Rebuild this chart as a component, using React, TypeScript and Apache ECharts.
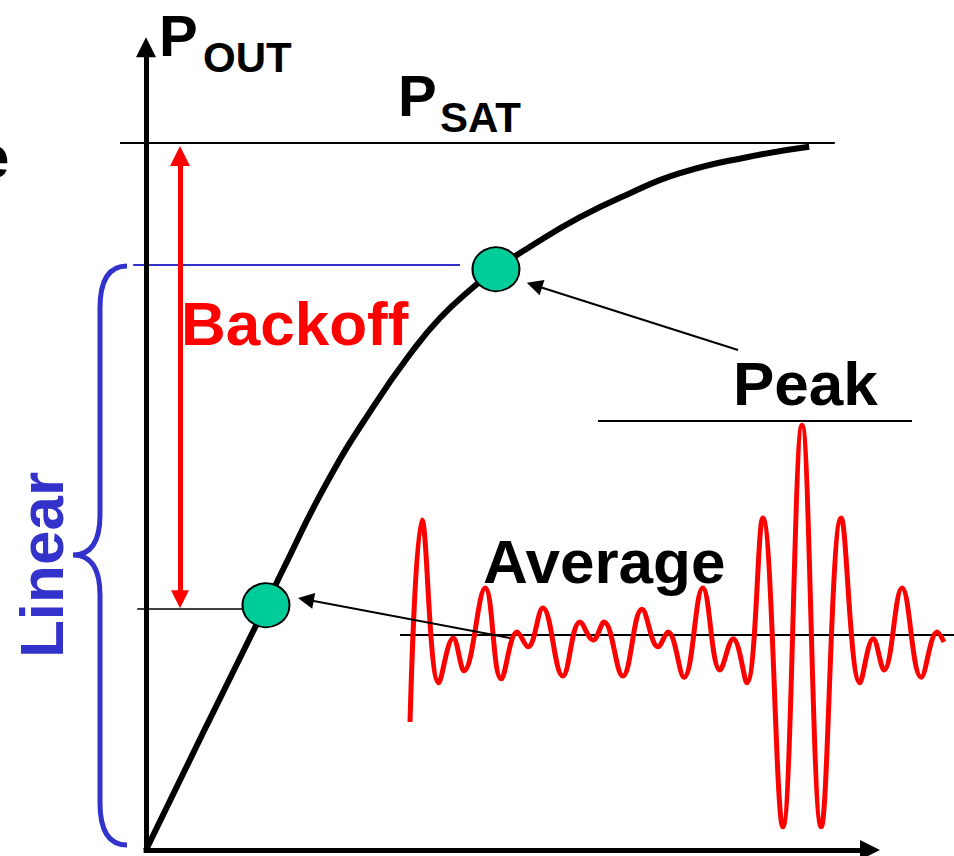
import React, { useEffect, useRef } from "react";
import * as echarts from "echarts";

// ---------- data (Pin / Pout in arbitrary units) ----------
const curvePin = [0, 7.5, 15, 17.1, 22.6, 28.4, 33.4, 36.75, 40.5, 43.75, 48, 54.25, 60.5, 66.75, 75.1, 82.9];
const curvePout = [0, 15.4, 30.6, 35, 45.9, 55.4, 62.5, 66.5, 70, 72.6, 75.4, 79.1, 82.1, 84.6, 86.6, 87.9];

const waveT = [33, 34.5, 36.6, 38.4, 39.75, 42.4, 44.4, 46.4, 47.75, 49.6, 52.1, 54.25, 55.9, 57.25, 59.6, 62, 64, 65.25, 67.25, 69.6, 71.75, 73.4, 75.1, 77.1, 79.6, 82, 84.4, 86.9, 89.25, 90.9, 92.25, 94.5, 96.9, 98.9, 99.75];
const waveV = [16, 41.25, 20.9, 26.5, 22.4, 32.75, 21.4, 27.25, 25.4, 30.25, 21.75, 28.5, 26.25, 28.5, 21.75, 30.1, 25.4, 27.25, 21.6, 32.75, 22.5, 26.4, 20.9, 41.5, 2.9, 53.1, 2.9, 41.5, 20.9, 26.4, 22.5, 32.75, 21.6, 27.25, 26];

const pointNames = ["Average", "Peak"];
const pointPin = [15, 43.75];
const pointPout = [30.6, 72.6];

const psatLevel = 88.4;
const linearTopLevel = 73.1;
const avgLevel = 30.1;
const envPeakLevel = 53.6;
const envAvgLevel = 26.9;

const yAxisTop = 101.6;
const xAxisEnd = 91.75;
const backoffPin = 4.25;
const backoffFrom = 30.1;
const backoffTo = 88;

const peakArrowTail = [74, 62.5];
const peakArrowTip = [47.6, 70.9];
const avgArrowTail = [45.5, 26.5];
const avgArrowTip = [19, 31.5];

// ---------- layout ----------
const W = 954;
const H = 856;
const PX = 8; // pixels per unit on both axes
const X_MIN = -18.25;
const Y_MIN = -0.75;

const BLACK = "#000000";
const RED = "#ff0000";
const BLUE = "#3333cc";
const GREEN = "#00cc99";
const FONT = "'Liberation Sans', Arial, Helvetica, sans-serif";

function pullBack(from: number[], to: number[], px: number): number[] {
  const dx = to[0] - from[0];
  const dy = to[1] - from[1];
  const len = Math.hypot(dx, dy);
  const d = px / PX;
  return [to[0] - (dx / len) * d, to[1] - (dy / len) * d];
}

export default function App() {
  const ref = useRef<HTMLDivElement>(null);

  useEffect(() => {
    if (!ref.current) return;
    echarts.graphic.registerShape(
      "brace",
      echarts.graphic.extendPath(
        "M127,266 Q100,266 100,308 L100,515 Q100,555 73,555 Q100,555 100,595 L100,803 Q100,845 127,845",
        {}
      )
    );
    const chart = echarts.init(ref.current, null, { renderer: "svg" });

    const curveData = curvePin.map((x, i) => [x, curvePout[i]]);
    const waveData = waveT.map((x, i) => [x, waveV[i]]);
    const points = pointPin.map((x, i) => ({ name: pointNames[i], value: [x, pointPout[i]] }));

    const yTip = [0, yAxisTop];
    const xTip = [xAxisEnd, 0];
    const AX = 20;
    const bFrom = [backoffPin, backoffFrom];
    const bTo = [backoffPin, backoffTo];

    const txt = (text: string, x: number, y: number, size: number, color: string, extra: any = {}) => ({
      type: "text",
      x,
      y,
      z: 100,
      ...extra,
      style: {
        text,
        fill: color,
        fontSize: size,
        fontWeight: "bold",
        fontFamily: FONT,
        align: "left",
        verticalAlign: "middle",
        ...(extra.style || {}),
      },
    });

    chart.setOption({
      animation: false,
      backgroundColor: "#ffffff",
      grid: { left: 0, right: 0, top: 0, bottom: 0 },
      xAxis: { type: "value", min: X_MIN, max: X_MIN + W / PX, show: false },
      yAxis: { type: "value", min: Y_MIN, max: Y_MIN + H / PX, show: false },
      series: [
        {
          type: "lines",
          coordinateSystem: "cartesian2d",
          z: 2,
          symbol: "none",
          data: [
            { coords: [[-3.25, psatLevel], [86.1, psatLevel]], lineStyle: { color: BLACK, width: 2 } },
            { coords: [[-1.6, linearTopLevel], [39.25, linearTopLevel]], lineStyle: { color: BLUE, width: 2 } },
            { coords: [[-1.1, avgLevel], [12.4, avgLevel]], lineStyle: { color: BLACK, width: 1.5 } },
            { coords: [[56.5, envPeakLevel], [95.75, envPeakLevel]], lineStyle: { color: BLACK, width: 2 } },
            { coords: [[31.75, envAvgLevel], [101, envAvgLevel]], lineStyle: { color: BLACK, width: 2 } },
          ],
          lineStyle: { opacity: 1 },
        },
        {
          type: "lines",
          coordinateSystem: "cartesian2d",
          z: 3,
          symbol: ["none", "triangle"],
          symbolSize: [18, AX],
          lineStyle: { color: BLACK, width: 5, opacity: 1 },
          itemStyle: { color: BLACK },
          data: [
            { coords: [[0, -0.3], pullBack([0, 0], yTip, AX / 2)] },
            { coords: [[-0.3, 0], pullBack([0, 0], xTip, AX / 2)] },
          ],
        },
        {
          type: "lines",
          coordinateSystem: "cartesian2d",
          z: 3,
          symbol: ["triangle", "triangle"],
          symbolSize: [18, AX],
          lineStyle: { color: RED, width: 5, opacity: 1 },
          itemStyle: { color: RED },
          data: [{ coords: [pullBack(bTo, bFrom, AX / 2), pullBack(bFrom, bTo, AX / 2)] }],
        },
        {
          type: "lines",
          coordinateSystem: "cartesian2d",
          z: 6,
          symbol: ["none", "triangle"],
          symbolSize: [13, 16],
          lineStyle: { color: BLACK, width: 2, opacity: 1 },
          itemStyle: { color: BLACK },
          data: [
            { coords: [peakArrowTail, pullBack(peakArrowTail, peakArrowTip, 8)] },
            { coords: [avgArrowTail, pullBack(avgArrowTail, avgArrowTip, 8)] },
          ],
        },
        {
          type: "line",
          z: 4,
          data: curveData,
          smooth: 0.5,
          showSymbol: false,
          symbol: "none",
          clip: false,
          lineStyle: { color: BLACK, width: 6 },
        },
        {
          type: "line",
          z: 5,
          data: waveData,
          smooth: 0.4,
          showSymbol: false,
          symbol: "none",
          clip: false,
          lineStyle: { color: RED, width: 5 },
        },
        {
          type: "scatter",
          z: 7,
          data: points,
          symbol: "circle",
          symbolSize: [47, 44],
          itemStyle: { color: GREEN, borderColor: BLACK, borderWidth: 2, opacity: 1 },
        },
      ],
      graphic: [
        { type: "brace", x: 0, y: 0, z: 50, style: { fill: "none", stroke: BLUE, lineWidth: 5 } },
        txt("e", -25, 156.5, 62, BLACK),
        txt("P", 159, 35, 58, BLACK),
        txt("OUT", 203, 57.4, 42, BLACK),
        txt("P", 398, 95, 58, BLACK),
        txt("SAT", 440, 117.4, 42, BLACK),
        txt("Backoff", 181, 323.5, 62, RED),
        txt("Peak", 733, 383.5, 62, BLACK),
        txt("Average", 483, 561.5, 62, BLACK),
        txt("Linear", 41, 565, 62, BLUE, { rotation: Math.PI / 2, style: { align: "center" } }),
      ],
    });

    return () => chart.dispose();
  }, []);

  return (
    <div
      ref={ref}
      style={{ position: "fixed", left: 0, top: 0, width: W, height: H, background: "#fff" }}
    />
  );
}
